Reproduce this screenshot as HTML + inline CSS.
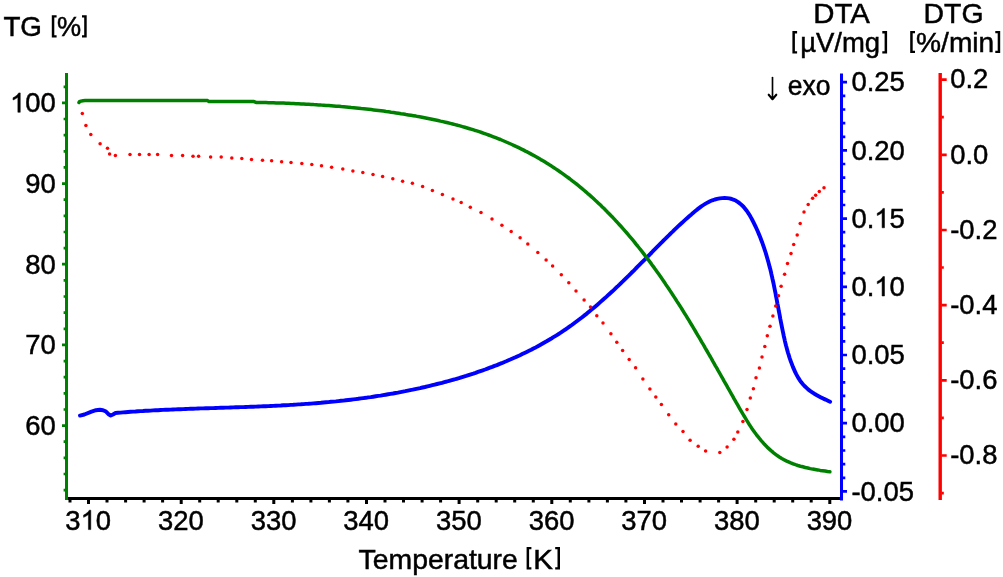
<!DOCTYPE html>
<html><head><meta charset="utf-8"><style>
html,body{margin:0;padding:0;background:#fff;width:1003px;height:577px;overflow:hidden}
svg{display:block}
text{font-family:"Liberation Sans",sans-serif}
</style></head><body><svg width="1003" height="577" viewBox="0 0 1003 577"><rect x="65" y="73" width="3" height="427" fill="#008000"/><rect x="68" y="497" width="772" height="3" fill="#000"/><rect x="840" y="73.5" width="3" height="427" fill="#0000ff"/><rect x="938.5" y="73" width="3.4" height="427" fill="#ff0000"/><path d="M63.6 86.8H65.5 M62 102.9H65.5 M63.6 119.0H65.5 M63.6 135.2H65.5 M63.6 151.3H65.5 M63.6 167.4H65.5 M62 183.6H65.5 M63.6 199.7H65.5 M63.6 215.8H65.5 M63.6 232.0H65.5 M63.6 248.1H65.5 M62 264.2H65.5 M63.6 280.4H65.5 M63.6 296.5H65.5 M63.6 312.7H65.5 M63.6 328.8H65.5 M62 344.9H65.5 M63.6 361.1H65.5 M63.6 377.2H65.5 M63.6 393.3H65.5 M63.6 409.5H65.5 M62 425.6H65.5 M63.6 441.7H65.5 M63.6 457.9H65.5 M63.6 474.0H65.5 M63.6 490.1H65.5" stroke="#008000" stroke-width="2.7" fill="none"/><path d="M70.0 499.5V502.6 M88.5 499.5V504 M107.0 499.5V502.6 M125.6 499.5V502.6 M144.1 499.5V502.6 M162.6 499.5V502.6 M181.2 499.5V504 M199.7 499.5V502.6 M218.2 499.5V502.6 M236.8 499.5V502.6 M255.3 499.5V502.6 M273.8 499.5V504 M292.4 499.5V502.6 M310.9 499.5V502.6 M329.4 499.5V502.6 M347.9 499.5V502.6 M366.5 499.5V504 M385.0 499.5V502.6 M403.5 499.5V502.6 M422.1 499.5V502.6 M440.6 499.5V502.6 M459.1 499.5V504 M477.7 499.5V502.6 M496.2 499.5V502.6 M514.7 499.5V502.6 M533.3 499.5V502.6 M551.8 499.5V504 M570.3 499.5V502.6 M588.9 499.5V502.6 M607.4 499.5V502.6 M625.9 499.5V502.6 M644.5 499.5V504 M663.0 499.5V502.6 M681.5 499.5V502.6 M700.1 499.5V502.6 M718.6 499.5V502.6 M737.1 499.5V504 M755.7 499.5V502.6 M774.2 499.5V502.6 M792.7 499.5V502.6 M811.2 499.5V502.6 M829.8 499.5V504" stroke="#000" stroke-width="3" fill="none"/><path d="M842.5 82.2H847 M842.5 95.8H845.3 M842.5 109.5H845.3 M842.5 123.1H845.3 M842.5 136.8H845.3 M842.5 150.4H847 M842.5 164.0H845.3 M842.5 177.7H845.3 M842.5 191.3H845.3 M842.5 205.0H845.3 M842.5 218.6H847 M842.5 232.2H845.3 M842.5 245.9H845.3 M842.5 259.5H845.3 M842.5 273.2H845.3 M842.5 286.8H847 M842.5 300.4H845.3 M842.5 314.1H845.3 M842.5 327.7H845.3 M842.5 341.4H845.3 M842.5 355.0H847 M842.5 368.6H845.3 M842.5 382.3H845.3 M842.5 395.9H845.3 M842.5 409.6H845.3 M842.5 423.2H847 M842.5 436.8H845.3 M842.5 450.5H845.3 M842.5 464.1H845.3 M842.5 477.8H845.3 M842.5 491.4H847" stroke="#0000ff" stroke-width="2.7" fill="none"/><path d="M941.5 79.6H946.7 M941.5 117.2H943.8 M941.5 154.8H946.7 M941.5 192.4H943.8 M941.5 230.0H946.7 M941.5 267.5H943.8 M941.5 305.1H946.7 M941.5 342.7H943.8 M941.5 380.3H946.7 M941.5 417.9H943.8 M941.5 455.5H946.7 M941.5 493.1H943.8" stroke="#ff0000" stroke-width="2.7" fill="none"/><path d="M51.8 15.3H56.6V17.6H54.3V35.2H56.6V37.5H51.8Z" fill="#000"/><path d="M86.7 15.3H82.0V17.6H84.2V35.2H82.0V37.5H86.7Z" fill="#000"/><path d="M526.6 547.0H531.4V549.3H529.1V567.2H531.4V569.5H526.6Z" fill="#000"/><path d="M560.0 547.0H555.2V549.3H557.5V567.2H555.2V569.5H560.0Z" fill="#000"/><path d="M792.4 31.1H797.1V33.4H794.9V51.300000000000004H797.1V53.6H792.4Z" fill="#000"/><path d="M887.1 31.1H882.3V33.4H884.6V51.300000000000004H882.3V53.6H887.1Z" fill="#000"/><path d="M910.2 31.0H915.0V33.3H912.7V50.7H915.0V53.0H910.2Z" fill="#000"/><path d="M1000.2 31.0H995.3V33.3H997.7V50.7H995.3V53.0H1000.2Z" fill="#000"/><g font-family="Liberation Sans, sans-serif" fill="#000" stroke="#000" stroke-width="0.5" style="filter:grayscale(1)"><text x="10.05" y="112.30" font-size="28.2" textLength="45.73" lengthAdjust="spacingAndGlyphs"> 00</text><text x="25.29" y="192.98" font-size="28.2" textLength="30.49" lengthAdjust="spacingAndGlyphs">90</text><text x="25.29" y="273.65" font-size="28.2" textLength="30.49" lengthAdjust="spacingAndGlyphs">80</text><text x="25.29" y="354.33" font-size="28.2" textLength="30.49" lengthAdjust="spacingAndGlyphs">70</text><text x="25.29" y="435.00" font-size="28.2" textLength="30.49" lengthAdjust="spacingAndGlyphs">60</text><text x="851.43" y="91.40" font-size="28.2" textLength="53.35" lengthAdjust="spacingAndGlyphs">0.25</text><text x="851.43" y="159.60" font-size="28.2" textLength="53.35" lengthAdjust="spacingAndGlyphs">0.20</text><text x="851.43" y="227.80" font-size="28.2" textLength="53.35" lengthAdjust="spacingAndGlyphs">0. 5</text><text x="851.43" y="296.00" font-size="28.2" textLength="53.35" lengthAdjust="spacingAndGlyphs">0. 0</text><text x="851.43" y="364.20" font-size="28.2" textLength="53.35" lengthAdjust="spacingAndGlyphs">0.05</text><text x="851.43" y="432.40" font-size="28.2" textLength="53.35" lengthAdjust="spacingAndGlyphs">0.00</text><text x="851.43" y="500.60" font-size="28.2" textLength="62.48" lengthAdjust="spacingAndGlyphs">-0.05</text><text x="950.23" y="88.40" font-size="28.2" textLength="38.10" lengthAdjust="spacingAndGlyphs">0.2</text><text x="950.23" y="163.58" font-size="28.2" textLength="38.10" lengthAdjust="spacingAndGlyphs">0.0</text><text x="950.23" y="238.76" font-size="28.2" textLength="47.23" lengthAdjust="spacingAndGlyphs">-0.2</text><text x="950.23" y="313.94" font-size="28.2" textLength="47.23" lengthAdjust="spacingAndGlyphs">-0.4</text><text x="950.23" y="389.12" font-size="28.2" textLength="47.23" lengthAdjust="spacingAndGlyphs">-0.6</text><text x="950.23" y="464.30" font-size="28.2" textLength="47.23" lengthAdjust="spacingAndGlyphs">-0.8</text><text x="65.35" y="529.60" font-size="28.2" textLength="45.73" lengthAdjust="spacingAndGlyphs">3 0</text><text x="158.01" y="529.60" font-size="28.2" textLength="45.73" lengthAdjust="spacingAndGlyphs">320</text><text x="250.67" y="529.60" font-size="28.2" textLength="45.73" lengthAdjust="spacingAndGlyphs">330</text><text x="343.33" y="529.60" font-size="28.2" textLength="45.73" lengthAdjust="spacingAndGlyphs">340</text><text x="435.99" y="529.60" font-size="28.2" textLength="45.73" lengthAdjust="spacingAndGlyphs">350</text><text x="528.65" y="529.60" font-size="28.2" textLength="45.73" lengthAdjust="spacingAndGlyphs">360</text><text x="621.31" y="529.60" font-size="28.2" textLength="45.73" lengthAdjust="spacingAndGlyphs">370</text><text x="713.97" y="529.60" font-size="28.2" textLength="45.73" lengthAdjust="spacingAndGlyphs">380</text><text x="806.63" y="529.60" font-size="28.2" textLength="45.73" lengthAdjust="spacingAndGlyphs">390</text><text x="3.39" y="36.40" font-size="28.5" textLength="38.59" lengthAdjust="spacingAndGlyphs">TG</text><text x="56.92" y="36.40" font-size="28.5" textLength="24.13" lengthAdjust="spacingAndGlyphs">%</text><text x="358.58" y="568.80" font-size="28.5" textLength="159.27" lengthAdjust="spacingAndGlyphs">Temperature</text><text x="533.18" y="568.80" font-size="28.5" textLength="19.67" lengthAdjust="spacingAndGlyphs">K</text><text x="813.19" y="22.80" font-size="28.5" textLength="56.56" lengthAdjust="spacingAndGlyphs">DTA</text><text x="800.23" y="51.50" font-size="28.5" textLength="79.93" lengthAdjust="spacingAndGlyphs">µV/mg</text><text x="923.57" y="22.80" font-size="28.5" textLength="59.95" lengthAdjust="spacingAndGlyphs">DTG</text><text x="916.09" y="51.50" font-size="28.5" textLength="78.15" lengthAdjust="spacingAndGlyphs">%/min</text><text x="787.69" y="94.70" font-size="28.0" textLength="42.73" lengthAdjust="spacingAndGlyphs">exo</text></g><path d="M763 0H583V1147Q518 1085 412 1023Q306 961 222 930V1104Q373 1175 486 1276Q599 1377 646 1472H763Z" transform="translate(10.05,112.30) scale(0.01338,-0.01318)" fill="#000" stroke="#000" stroke-width="37.4" style="filter:grayscale(1)"/><path d="M763 0H583V1147Q518 1085 412 1023Q306 961 222 930V1104Q373 1175 486 1276Q599 1377 646 1472H763Z" transform="translate(874.29,227.80) scale(0.01338,-0.01318)" fill="#000" stroke="#000" stroke-width="37.4" style="filter:grayscale(1)"/><path d="M763 0H583V1147Q518 1085 412 1023Q306 961 222 930V1104Q373 1175 486 1276Q599 1377 646 1472H763Z" transform="translate(874.29,296.00) scale(0.01338,-0.01318)" fill="#000" stroke="#000" stroke-width="37.4" style="filter:grayscale(1)"/><path d="M763 0H583V1147Q518 1085 412 1023Q306 961 222 930V1104Q373 1175 486 1276Q599 1377 646 1472H763Z" transform="translate(80.60,529.60) scale(0.01338,-0.01318)" fill="#000" stroke="#000" stroke-width="37.4" style="filter:grayscale(1)"/><path d="M772.5 77.6V98" stroke="#000" stroke-width="1.65" fill="none" stroke-linecap="round"/><path d="M768.7 94.7L772.5 99.2L776.3 94.7" stroke="#000" stroke-width="2.1" fill="none" stroke-linecap="round" stroke-linejoin="round"/><path d="M770.6 96.4L772.5 99.6L774.4 96.4Z" fill="#000"/><polyline points="80.0,415.6 84.4,414.5 91.5,411.6 96.0,410.2 99.9,409.7 103.0,410.2 106.0,411.6 108.5,414.2 110.7,415.5 113.0,414.5 115.5,413.0 118.0,412.8 120.5,412.6 123.0,412.4 125.5,412.2 128.0,412.0 130.5,411.8 133.0,411.6 135.5,411.5 138.0,411.3 140.5,411.1 143.0,411.0 145.5,410.8 148.0,410.7 150.5,410.6 153.0,410.4 155.5,410.3 158.0,410.2 160.5,410.0 163.0,409.9 165.5,409.8 168.0,409.7 170.5,409.6 173.0,409.5 175.6,409.4 178.1,409.3 180.6,409.2 183.1,409.1 185.6,409.0 188.1,408.9 190.6,408.8 193.1,408.7 195.6,408.6 198.1,408.5 200.6,408.4 203.1,408.4 205.6,408.3 208.1,408.2 210.6,408.1 213.1,408.1 215.7,408.0 218.2,407.9 220.7,407.8 223.2,407.7 225.7,407.6 228.2,407.6 230.7,407.5 233.2,407.4 235.7,407.3 238.2,407.2 240.7,407.1 243.2,407.1 245.7,407.0 248.2,406.9 250.7,406.8 253.2,406.7 255.8,406.6 258.3,406.5 260.8,406.4 263.3,406.3 265.8,406.2 268.3,406.1 270.8,406.0 273.3,405.9 275.8,405.7 278.3,405.6 280.8,405.5 283.3,405.3 285.8,405.2 288.3,405.1 290.8,404.9 293.3,404.8 295.8,404.6 298.3,404.4 300.8,404.3 303.3,404.1 305.9,403.9 308.4,403.8 310.9,403.6 313.4,403.4 315.9,403.2 318.4,403.0 320.9,402.8 323.4,402.5 325.9,402.3 328.4,402.1 330.9,401.8 333.4,401.6 335.9,401.4 338.4,401.1 340.9,400.8 343.3,400.6 345.8,400.3 348.3,400.0 350.8,399.7 353.3,399.4 355.8,399.1 358.3,398.8 360.8,398.4 363.3,398.1 365.8,397.8 368.2,397.4 370.7,397.1 373.2,396.7 375.7,396.3 378.2,395.9 380.6,395.6 383.1,395.1 385.6,394.7 388.1,394.3 390.5,393.9 393.0,393.5 395.5,393.0 397.9,392.6 400.4,392.1 402.9,391.6 405.3,391.2 407.8,390.7 410.2,390.2 412.7,389.7 415.2,389.1 417.6,388.6 420.1,388.1 422.5,387.5 424.9,387.0 427.4,386.4 429.8,385.8 432.3,385.2 434.7,384.6 437.1,384.0 439.6,383.4 442.0,382.8 444.4,382.1 446.8,381.5 449.2,380.8 451.7,380.1 454.1,379.5 456.5,378.8 458.9,378.1 461.3,377.3 463.7,376.6 466.1,375.9 468.5,375.1 470.9,374.3 473.3,373.6 475.6,372.8 478.0,371.9 480.4,371.1 482.8,370.3 485.1,369.5 487.5,368.6 489.9,367.7 492.2,366.9 494.6,365.9 496.9,365.1 499.2,364.1 501.6,363.2 503.9,362.2 506.2,361.3 508.5,360.3 510.8,359.3 513.1,358.3 515.4,357.3 517.7,356.2 520.0,355.2 522.2,354.1 524.5,353.0 526.7,351.9 529.0,350.8 531.2,349.7 533.4,348.5 535.7,347.4 537.9,346.2 540.1,345.0 542.2,343.8 544.4,342.5 546.6,341.3 548.8,340.0 550.9,338.8 553.0,337.4 555.2,336.1 557.3,334.8 559.4,333.5 561.5,332.1 563.6,330.7 565.6,329.3 567.7,327.9 569.8,326.4 571.8,325.0 573.8,323.5 575.8,322.0 577.8,320.5 579.8,319.0 581.8,317.5 583.8,315.9 585.8,314.4 587.7,312.8 589.6,311.2 591.6,309.6 593.5,308.0 595.4,306.4 597.4,304.7 599.2,303.1 601.1,301.4 603.0,299.7 604.9,298.1 606.8,296.4 608.6,294.7 610.5,293.0 612.4,291.3 614.2,289.6 616.0,287.8 617.9,286.1 619.7,284.4 621.5,282.6 623.3,280.9 625.1,279.1 626.9,277.3 628.7,275.6 630.5,273.8 632.3,272.0 634.1,270.3 635.8,268.5 637.6,266.7 639.4,264.9 641.1,263.2 642.9,261.4 644.7,259.6 646.4,257.8 648.2,256.1 649.9,254.3 651.7,252.5 653.4,250.7 655.2,248.9 656.9,247.2 658.7,245.4 660.4,243.7 662.2,241.9 663.9,240.1 665.7,238.4 667.5,236.6 669.3,234.9 671.0,233.1 672.9,231.4 674.6,229.7 676.5,227.9 678.3,226.2 680.1,224.5 682.0,222.8 683.8,221.1 685.7,219.4 687.6,217.7 689.5,216.0 691.4,214.4 693.3,212.7 695.3,211.1 697.3,209.4 699.3,207.9 701.3,206.4 703.4,205.0 705.6,203.6 707.8,202.4 710.0,201.3 712.4,200.3 714.8,199.5 717.2,198.9 719.7,198.4 722.1,198.1 724.6,198.0 727.0,198.1 729.4,198.4 731.7,199.0 733.9,199.8 736.1,200.8 738.1,202.1 740.1,203.6 741.9,205.2 743.7,207.0 745.3,209.0 746.9,211.0 748.3,213.1 749.7,215.3 751.0,217.6 752.2,219.8 753.4,222.1 754.5,224.4 755.6,226.7 756.7,229.0 757.7,231.3 758.7,233.6 759.7,236.0 760.6,238.3 761.5,240.7 762.4,243.0 763.2,245.4 764.0,247.7 764.8,250.1 765.6,252.5 766.3,254.9 767.0,257.3 767.7,259.7 768.4,262.1 769.0,264.5 769.6,266.9 770.3,269.3 770.9,271.7 771.4,274.2 772.0,276.6 772.5,279.0 773.1,281.5 773.6,283.9 774.1,286.4 774.6,288.8 775.1,291.3 775.6,293.7 776.0,296.2 776.5,298.6 777.0,301.1 777.4,303.6 777.9,306.0 778.4,308.5 778.8,311.0 779.3,313.4 779.8,315.9 780.2,318.4 780.7,320.9 781.2,323.3 781.7,325.8 782.2,328.3 782.7,330.8 783.2,333.2 783.7,335.7 784.3,338.2 784.8,340.6 785.4,343.1 786.0,345.5 786.7,348.0 787.3,350.4 788.0,352.8 788.8,355.2 789.5,357.6 790.3,360.0 791.2,362.4 792.1,364.7 793.0,367.1 794.0,369.4 795.0,371.6 796.1,373.9 797.3,376.1 798.5,378.2 799.9,380.3 801.3,382.3 802.9,384.2 804.5,386.0 806.3,387.7 808.1,389.4 810.1,390.9 812.2,392.3 814.3,393.7 816.5,395.0 818.7,396.2 821.0,397.4 823.3,398.6 825.6,399.6 827.9,400.7 830.1,401.7" fill="none" stroke="#0000ff" stroke-width="3.9" stroke-linejoin="round" stroke-linecap="round"/><polyline points="79.0,102.5 79.5,101.7 81.0,101.1 83.0,100.7 85.0,100.6 207.6,100.6 209.0,101.6 254.0,101.6 256.0,102.4 258.5,102.4 261.0,102.5 263.5,102.5 266.0,102.6 268.5,102.7 271.1,102.7 273.6,102.8 276.1,102.9 278.6,103.0 281.1,103.0 283.6,103.1 286.1,103.2 288.6,103.3 291.1,103.4 293.6,103.5 296.1,103.7 298.6,103.8 301.1,103.9 303.7,104.0 306.2,104.2 308.7,104.3 311.2,104.4 313.7,104.6 316.2,104.7 318.7,104.9 321.2,105.1 323.7,105.2 326.2,105.4 328.7,105.6 331.2,105.8 333.7,106.0 336.2,106.2 338.7,106.3 341.2,106.6 343.7,106.8 346.2,107.0 348.7,107.2 351.2,107.5 353.7,107.7 356.2,107.9 358.7,108.2 361.2,108.5 363.7,108.7 366.2,109.0 368.7,109.3 371.2,109.6 373.7,109.9 376.2,110.2 378.6,110.5 381.1,110.8 383.6,111.1 386.1,111.5 388.6,111.8 391.1,112.2 393.6,112.5 396.1,112.9 398.5,113.3 401.0,113.7 403.5,114.0 406.0,114.5 408.4,114.9 410.9,115.3 413.4,115.7 415.9,116.1 418.3,116.6 420.8,117.0 423.3,117.5 425.7,118.0 428.2,118.5 430.7,119.0 433.1,119.5 435.6,120.0 438.0,120.5 440.5,121.1 442.9,121.6 445.4,122.2 447.8,122.8 450.3,123.4 452.7,124.0 455.1,124.6 457.6,125.3 460.0,125.9 462.4,126.6 464.8,127.3 467.2,128.0 469.6,128.7 472.0,129.4 474.4,130.2 476.8,130.9 479.2,131.7 481.6,132.5 483.9,133.3 486.3,134.2 488.6,135.0 491.0,135.9 493.4,136.8 495.7,137.7 498.0,138.6 500.4,139.5 502.7,140.5 505.0,141.5 507.3,142.5 509.6,143.5 511.9,144.5 514.2,145.6 516.4,146.6 518.7,147.7 521.0,148.8 523.2,149.9 525.4,151.1 527.7,152.2 529.9,153.4 532.1,154.6 534.3,155.8 536.5,157.0 538.7,158.3 540.8,159.6 543.0,160.8 545.1,162.1 547.3,163.4 549.4,164.8 551.5,166.1 553.6,167.5 555.7,168.9 557.8,170.3 559.9,171.7 561.9,173.1 564.0,174.6 566.0,176.1 568.0,177.5 570.0,179.0 572.0,180.6 574.0,182.1 576.0,183.6 577.9,185.2 579.9,186.8 581.8,188.4 583.7,190.0 585.6,191.6 587.5,193.3 589.4,194.9 591.3,196.6 593.2,198.3 595.0,200.0 596.9,201.7 598.7,203.4 600.5,205.1 602.3,206.9 604.1,208.6 605.9,210.4 607.6,212.2 609.4,214.0 611.1,215.8 612.9,217.6 614.6,219.4 616.3,221.3 618.0,223.1 619.7,225.0 621.4,226.8 623.0,228.7 624.7,230.6 626.4,232.5 628.0,234.4 629.6,236.3 631.2,238.2 632.9,240.2 634.5,242.1 636.0,244.1 637.6,246.0 639.2,248.0 640.7,249.9 642.3,251.9 643.8,253.9 645.3,255.9 646.9,257.9 648.4,259.9 649.9,261.9 651.4,263.9 652.8,265.9 654.3,267.9 655.8,270.0 657.2,272.0 658.7,274.1 660.1,276.1 661.5,278.1 663.0,280.2 664.4,282.3 665.8,284.4 667.2,286.4 668.6,288.5 670.0,290.6 671.4,292.7 672.7,294.8 674.1,296.9 675.5,299.0 676.8,301.1 678.2,303.2 679.5,305.3 680.9,307.4 682.2,309.5 683.5,311.7 684.8,313.8 686.2,315.9 687.5,318.1 688.8,320.2 690.1,322.4 691.4,324.5 692.7,326.6 694.0,328.8 695.3,331.0 696.5,333.1 697.8,335.3 699.1,337.4 700.4,339.6 701.6,341.8 702.9,343.9 704.2,346.1 705.4,348.3 706.7,350.5 707.9,352.6 709.2,354.8 710.5,357.0 711.7,359.2 712.9,361.4 714.2,363.6 715.4,365.8 716.7,367.9 717.9,370.1 719.2,372.3 720.4,374.5 721.6,376.7 722.9,378.9 724.1,381.1 725.4,383.3 726.6,385.4 727.8,387.6 729.1,389.8 730.3,392.0 731.5,394.2 732.8,396.4 734.0,398.6 735.3,400.8 736.5,403.0 737.8,405.1 739.0,407.3 740.2,409.5 741.5,411.7 742.8,413.9 744.1,416.0 745.4,418.2 746.7,420.3 748.0,422.4 749.3,424.5 750.7,426.6 752.1,428.7 753.5,430.7 755.0,432.8 756.5,434.8 758.0,436.7 759.6,438.7 761.2,440.6 762.8,442.4 764.5,444.3 766.2,446.1 768.0,447.9 769.9,449.6 771.7,451.2 773.6,452.8 775.6,454.3 777.6,455.8 779.7,457.2 781.8,458.5 784.0,459.7 786.2,460.9 788.5,461.9 790.8,462.9 793.1,463.8 795.5,464.7 797.9,465.5 800.4,466.2 802.8,466.8 805.3,467.5 807.8,468.0 810.2,468.6 812.7,469.1 815.2,469.5 817.7,469.9 820.2,470.4 822.6,470.7 825.1,471.1 827.5,471.5 829.9,471.8" fill="none" stroke="#008000" stroke-width="3.5" stroke-linejoin="round" stroke-linecap="round"/><g fill="#ff0000"><circle cx="82.3" cy="113.4" r="1.75"/><circle cx="85.9" cy="125.5" r="1.75"/><circle cx="90.8" cy="134.4" r="1.75"/><circle cx="100.1" cy="143.7" r="1.75"/><circle cx="107.5" cy="148.3" r="1.75"/><circle cx="109.6" cy="154.0" r="1.75"/><circle cx="115.4" cy="155.4" r="1.75"/><circle cx="130.0" cy="154.6" r="1.75"/><circle cx="139.5" cy="154.6" r="1.75"/><circle cx="149.1" cy="154.6" r="1.75"/><circle cx="157.6" cy="154.6" r="1.75"/><circle cx="171.5" cy="155.4" r="1.75"/><circle cx="182.6" cy="155.4" r="1.75"/><circle cx="193.0" cy="156.2" r="1.75"/><circle cx="198.6" cy="156.2" r="1.75"/><circle cx="210.6" cy="157.0" r="1.75"/><circle cx="221.2" cy="157.0" r="1.75"/><circle cx="231.8" cy="158.0" r="1.75"/><circle cx="241.8" cy="158.4" r="1.75"/><circle cx="251.5" cy="159.4" r="1.75"/><circle cx="262.5" cy="160.2" r="1.75"/><circle cx="271.6" cy="160.8" r="1.75"/><circle cx="281.6" cy="161.8" r="1.75"/><circle cx="291.0" cy="162.6" r="1.75"/><circle cx="301.8" cy="163.5" r="1.75"/><circle cx="311.8" cy="164.5" r="1.75"/><circle cx="321.5" cy="165.8" r="1.75"/><circle cx="331.6" cy="167.2" r="1.75"/><circle cx="342.8" cy="169.0" r="1.75"/><circle cx="352.9" cy="171.0" r="1.75"/><circle cx="362.8" cy="172.5" r="1.75"/><circle cx="373.0" cy="174.5" r="1.75"/><circle cx="382.6" cy="176.6" r="1.75"/><circle cx="392.8" cy="178.7" r="1.75"/><circle cx="402.6" cy="181.2" r="1.75"/><circle cx="412.4" cy="183.2" r="1.75"/><circle cx="422.6" cy="186.4" r="1.75"/><circle cx="432.4" cy="190.4" r="1.75"/><circle cx="442.4" cy="194.4" r="1.75"/><circle cx="453.0" cy="199.0" r="1.75"/><circle cx="461.2" cy="202.5" r="1.75"/><circle cx="470.3" cy="207.2" r="1.75"/><circle cx="481.0" cy="212.4" r="1.75"/><circle cx="492.0" cy="218.9" r="1.75"/><circle cx="501.9" cy="225.2" r="1.75"/><circle cx="511.2" cy="231.6" r="1.75"/><circle cx="520.1" cy="237.8" r="1.75"/><circle cx="527.8" cy="244.1" r="1.75"/><circle cx="537.8" cy="252.6" r="1.75"/><circle cx="546.1" cy="260.0" r="1.75"/><circle cx="552.6" cy="266.0" r="1.75"/><circle cx="561.3" cy="274.7" r="1.75"/><circle cx="568.8" cy="282.8" r="1.75"/><circle cx="576.0" cy="291.1" r="1.75"/><circle cx="584.1" cy="299.9" r="1.75"/><circle cx="590.5" cy="307.1" r="1.75"/><circle cx="596.8" cy="315.7" r="1.75"/><circle cx="603.0" cy="322.9" r="1.75"/><circle cx="610.9" cy="333.7" r="1.75"/><circle cx="616.8" cy="342.2" r="1.75"/><circle cx="622.6" cy="350.5" r="1.75"/><circle cx="629.2" cy="359.5" r="1.75"/><circle cx="635.6" cy="367.8" r="1.75"/><circle cx="642.9" cy="379.1" r="1.75"/><circle cx="649.9" cy="388.9" r="1.75"/><circle cx="655.8" cy="397.0" r="1.75"/><circle cx="661.4" cy="404.6" r="1.75"/><circle cx="668.7" cy="414.7" r="1.75"/><circle cx="675.8" cy="424.1" r="1.75"/><circle cx="683.0" cy="431.6" r="1.75"/><circle cx="690.1" cy="440.3" r="1.75"/><circle cx="698.2" cy="446.3" r="1.75"/><circle cx="705.6" cy="450.9" r="1.75"/><circle cx="719.8" cy="452.4" r="1.75"/><circle cx="727.1" cy="447.1" r="1.75"/><circle cx="733.9" cy="439.3" r="1.75"/><circle cx="737.8" cy="431.9" r="1.75"/><circle cx="742.9" cy="421.5" r="1.75"/><circle cx="747.0" cy="409.4" r="1.75"/><circle cx="750.3" cy="398.0" r="1.75"/><circle cx="753.4" cy="388.7" r="1.75"/><circle cx="756.0" cy="377.7" r="1.75"/><circle cx="759.4" cy="368.1" r="1.75"/><circle cx="762.0" cy="357.0" r="1.75"/><circle cx="764.8" cy="346.6" r="1.75"/><circle cx="767.3" cy="335.7" r="1.75"/><circle cx="770.0" cy="326.2" r="1.75"/><circle cx="772.9" cy="316.0" r="1.75"/><circle cx="775.7" cy="306.1" r="1.75"/><circle cx="778.5" cy="295.7" r="1.75"/><circle cx="781.1" cy="286.3" r="1.75"/><circle cx="784.6" cy="274.3" r="1.75"/><circle cx="787.5" cy="263.4" r="1.75"/><circle cx="791.0" cy="253.5" r="1.75"/><circle cx="793.7" cy="244.5" r="1.75"/><circle cx="797.2" cy="235.0" r="1.75"/><circle cx="800.2" cy="223.5" r="1.75"/><circle cx="804.0" cy="212.1" r="1.75"/><circle cx="808.2" cy="204.4" r="1.75"/><circle cx="812.6" cy="198.2" r="1.75"/><circle cx="815.6" cy="195.3" r="1.75"/><circle cx="819.3" cy="191.4" r="1.75"/><circle cx="824.0" cy="187.7" r="1.75"/></g></svg></body></html>
